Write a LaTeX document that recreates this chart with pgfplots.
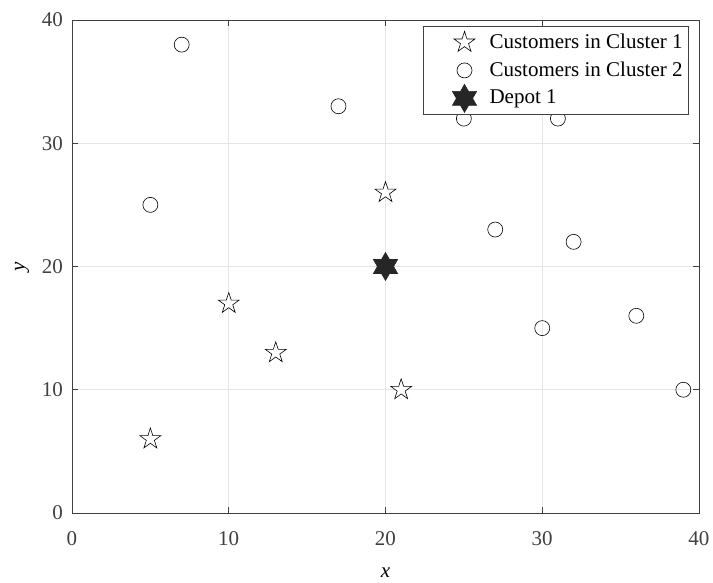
\documentclass[border=0pt]{standalone}
\usepackage{pgfplots}
\pgfplotsset{compat=1.18}
\usepackage{fontspec}
\setmainfont{Liberation Serif}
\pgfdeclareplotmark{pentagram}{%
  \pgfpathmoveto{\pgfpointpolar{90}{\pgfplotmarksize}}%
  \pgfpathlineto{\pgfpointpolar{126}{0.382\pgfplotmarksize}}%
  \pgfpathlineto{\pgfpointpolar{162}{\pgfplotmarksize}}%
  \pgfpathlineto{\pgfpointpolar{198}{0.382\pgfplotmarksize}}%
  \pgfpathlineto{\pgfpointpolar{234}{\pgfplotmarksize}}%
  \pgfpathlineto{\pgfpointpolar{270}{0.382\pgfplotmarksize}}%
  \pgfpathlineto{\pgfpointpolar{306}{\pgfplotmarksize}}%
  \pgfpathlineto{\pgfpointpolar{342}{0.382\pgfplotmarksize}}%
  \pgfpathlineto{\pgfpointpolar{18}{\pgfplotmarksize}}%
  \pgfpathlineto{\pgfpointpolar{54}{0.382\pgfplotmarksize}}%
  \pgfpathclose
  \pgfusepathqfillstroke
}
\pgfdeclareplotmark{hexagram}{%
  \pgfpathmoveto{\pgfpointpolar{90}{\pgfplotmarksize}}%
  \pgfpathlineto{\pgfpointpolar{120}{0.577\pgfplotmarksize}}%
  \pgfpathlineto{\pgfpointpolar{150}{\pgfplotmarksize}}%
  \pgfpathlineto{\pgfpointpolar{180}{0.577\pgfplotmarksize}}%
  \pgfpathlineto{\pgfpointpolar{210}{\pgfplotmarksize}}%
  \pgfpathlineto{\pgfpointpolar{240}{0.577\pgfplotmarksize}}%
  \pgfpathlineto{\pgfpointpolar{270}{\pgfplotmarksize}}%
  \pgfpathlineto{\pgfpointpolar{300}{0.577\pgfplotmarksize}}%
  \pgfpathlineto{\pgfpointpolar{330}{\pgfplotmarksize}}%
  \pgfpathlineto{\pgfpointpolar{0}{0.577\pgfplotmarksize}}%
  \pgfpathlineto{\pgfpointpolar{30}{\pgfplotmarksize}}%
  \pgfpathlineto{\pgfpointpolar{60}{0.577\pgfplotmarksize}}%
  \pgfpathclose
  \pgfusepathqfillstroke
}
\definecolor{axgray}{gray}{0.25}
\begin{document}
\fontsize{21}{25}\selectfont
\begin{tikzpicture}
\useasboundingbox (-72pt,-69pt) rectangle (641pt,513pt);
\begin{axis}[
  at={(0pt,0pt)}, anchor=south west,
  scale only axis,
  width=627pt, height=493pt,
  xmin=0, xmax=40, ymin=0, ymax=40,
  xtick={0,10,20,30,40}, ytick={0,10,20,30,40},
  grid=major,
  major grid style={gray!20, line width=0.6pt},
  axis line style={axgray, line width=0.8pt},
  tick style={axgray, line width=0.8pt},
  tick align=inside,
  major tick length=6pt,
  ticklabel style={font=\fontsize{21}{25}\selectfont, text=axgray},
  xticklabel style={yshift=-11pt},
  yticklabel style={xshift=-2pt},
  /pgf/number format/assume math mode=true,
  xlabel={\textit{x}}, ylabel={\textit{y}},
  label style={font=\fontsize{22}{26}\selectfont, text=axgray},
  every axis x label/.style={at={(axis description cs:0.5,0)}, yshift=-60pt, anchor=center},
  every axis y label/.style={at={(axis description cs:0,0.5)}, xshift=-50pt, rotate=90, anchor=center},
  legend style={at={(1,1)}, anchor=north east, xshift=-10pt, yshift=-6pt,
    draw=axgray, line width=0.8pt,
    font=\fontsize{21}{25}\selectfont, fill=white, inner xsep=4pt, inner ysep=2pt,
    nodes={inner ysep=1pt},
    row sep=0pt},
  legend cell align=left,
  legend image code/.code={\path[draw=none, fill=none] (3pt,-14pt) rectangle (63pt,14pt); \draw[#1] plot coordinates {(40pt,0pt)};},
]
\addplot[only marks, mark=pentagram, mark size=11pt, mark options={draw=black, fill=white, line width=0.6pt}]
  coordinates {(5,6) (10,17) (13,13) (20,26) (21,10)};
\addlegendentry{Customers in Cluster 1}
\addplot[only marks, mark=o, mark size=7.5pt, mark options={draw=black, fill=white, line width=0.6pt}]
  coordinates {(7,38) (5,25) (17,33) (25,32) (31,32) (27,23) (32,22) (30,15) (36,16) (39,10)};
\addlegendentry{Customers in Cluster 2}
\addplot[only marks, mark=hexagram, mark size=14pt, mark options={draw=black!85, fill=black!85, line width=0.6pt}]
  coordinates {(20,20)};
\addlegendentry{Depot 1}
\end{axis}
\end{tikzpicture}
\end{document}
